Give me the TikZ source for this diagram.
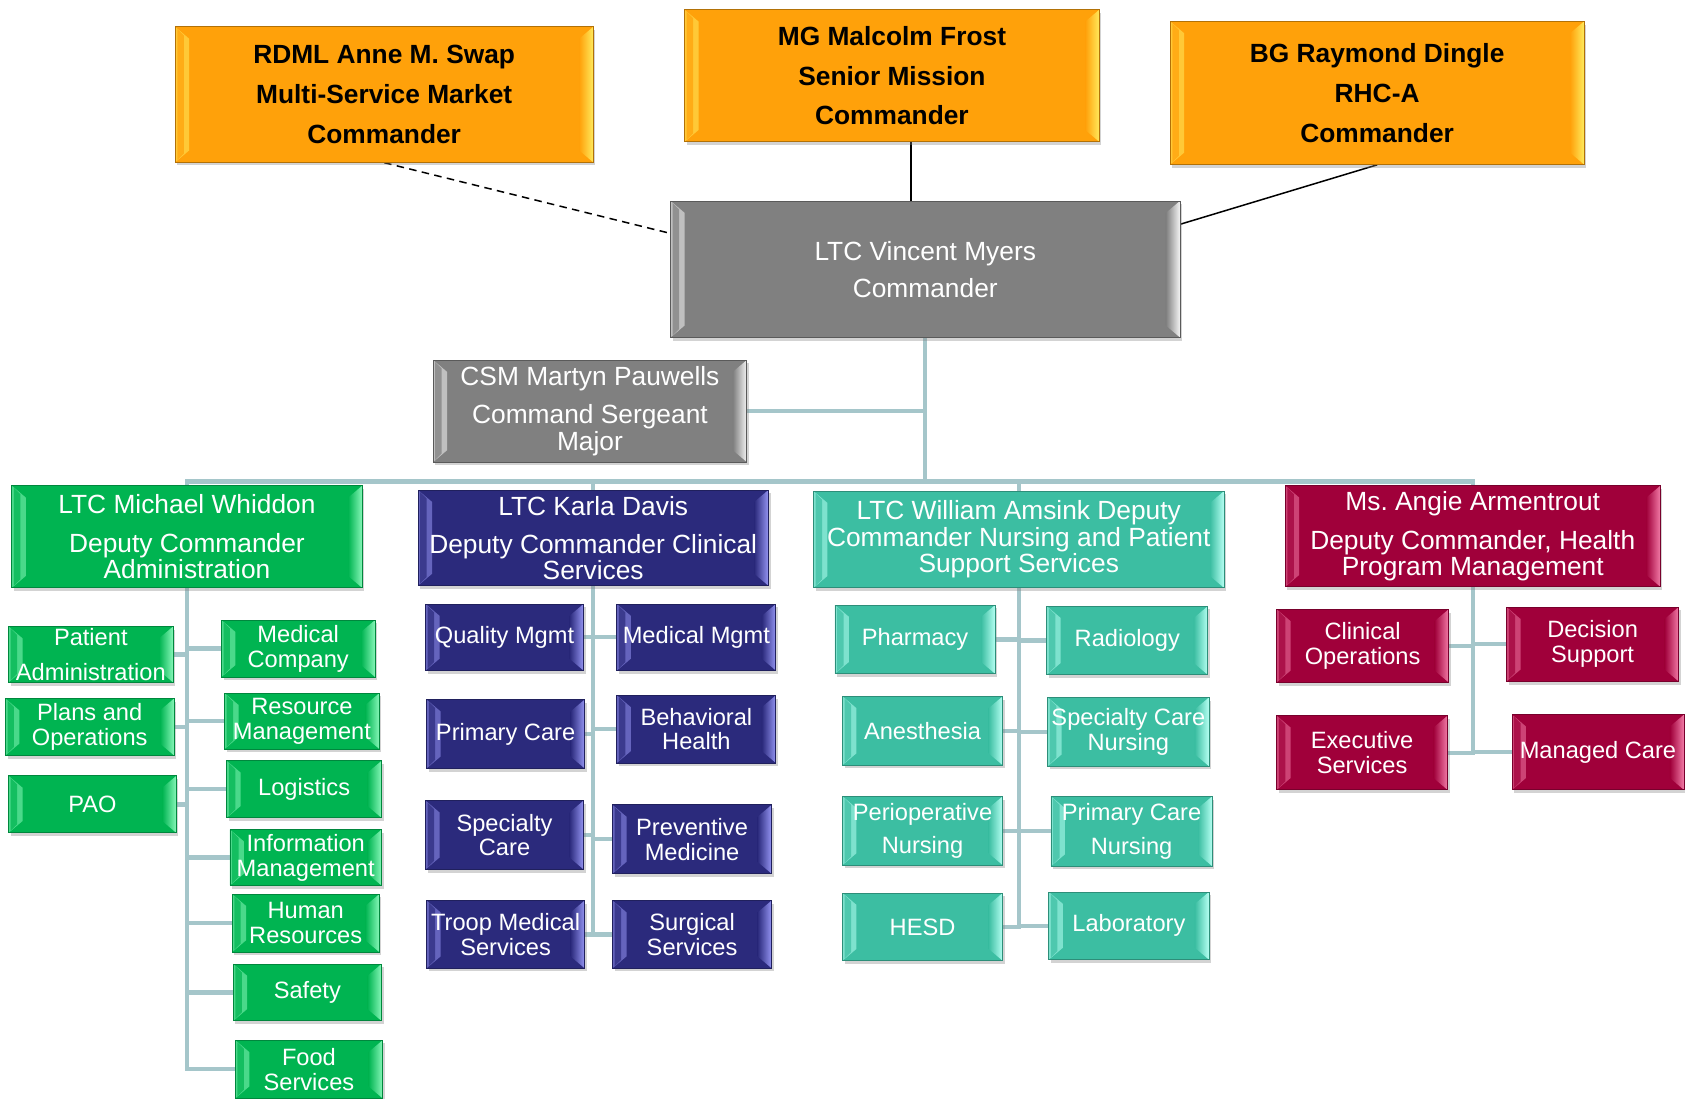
\documentclass[tikz,border=0pt]{standalone}
\usepackage{fontspec}
\setmainfont{Liberation Sans}
\usepackage{tikz}
\usetikzlibrary{shadows}
\pgfdeclarelayer{background}
\pgfsetlayers{background,main}
\definecolor{orgfill}{HTML}{FFA10A}
\definecolor{orglite}{HTML}{FFEA5C}
\definecolor{cmdfill}{HTML}{808080}
\definecolor{cmdlite}{HTML}{F4F4F4}
\definecolor{admfill}{HTML}{00B451}
\definecolor{admlite}{HTML}{86F7B8}
\definecolor{clnfill}{HTML}{2B2A7C}
\definecolor{clnlite}{HTML}{9494F2}
\definecolor{nrsfill}{HTML}{3CBEA2}
\definecolor{nrslite}{HTML}{B4FFF2}
\definecolor{hpmfill}{HTML}{A0003A}
\definecolor{hpmlite}{HTML}{F27AA6}
\definecolor{linkcol}{HTML}{A5C6CA}
\tikzset{bevel/.style 2 args={path picture={
    \fill[#2!55!#1]
      (path picture bounding box.south west) -- (path picture bounding box.north west)
      -- ([xshift=13pt,yshift=-11pt]path picture bounding box.north west)
      -- ([xshift=13pt,yshift=11pt]path picture bounding box.south west) -- cycle;
    \fill[#1!85!#2]
      ([xshift=2pt,yshift=-2pt]path picture bounding box.north west)
      -- ([xshift=8pt,yshift=-8pt]path picture bounding box.north west)
      -- ([xshift=8pt,yshift=8pt]path picture bounding box.south west)
      -- ([xshift=2pt,yshift=2pt]path picture bounding box.south west) -- cycle;
    \shade[left color=#1, right color=#2]
      (path picture bounding box.south east) -- (path picture bounding box.north east)
      -- ([xshift=-13pt,yshift=-11pt]path picture bounding box.north east)
      -- ([xshift=-13pt,yshift=11pt]path picture bounding box.south east) -- cycle;}}}
\tikzstyle{box}=[rectangle,inner sep=0pt,line width=0.8pt,align=center,text=white,drop shadow={opacity=0.35,shadow xshift=2pt,shadow yshift=-3pt}]
\tikzstyle{bigfont}=[font=\fontsize{24.5}{24.5}\selectfont]
\tikzstyle{smallfont}=[font=\fontsize{22}{23}\selectfont]
\tikzstyle{topbox}=[box,fill=orgfill,draw=orgfill!70!black,bevel={orgfill}{orglite},text=black,font=\fontsize{24.5}{24.5}\selectfont\bfseries]
\tikzstyle{cmdbox}=[box,bigfont,fill=cmdfill,draw=cmdfill!70!black,bevel={cmdfill}{cmdlite}]
\tikzstyle{admbox}=[box,fill=admfill,draw=admfill!75!black,bevel={admfill}{admlite}]
\tikzstyle{clnbox}=[box,fill=clnfill,draw=clnfill!75!black,bevel={clnfill}{clnlite}]
\tikzstyle{nrsbox}=[box,fill=nrsfill,draw=nrsfill!75!black,bevel={nrsfill}{nrslite}]
\tikzstyle{hpmbox}=[box,fill=hpmfill,draw=hpmfill!75!black,bevel={hpmfill}{hpmlite}]
\tikzstyle{link}=[draw=linkcol,line width=4pt,line cap=rect]
\tikzstyle{tie}=[draw,line width=1.4pt]

\begin{document}
\begin{tikzpicture}[x=1pt,y=-1pt]
    \useasboundingbox (0,0) rectangle (1568,1022);
    % Outside commanders on top
    \node[topbox,minimum width=389pt,minimum height=126pt] (rdml) at (357.5,88) {RDML Anne M. Swap\\[12.5pt]Multi-Service Market\\[12.5pt]Commander};
    \node[topbox,minimum width=386pt,minimum height=123pt] (mg) at (830,70.5) {MG Malcolm Frost\\[12.5pt]Senior Mission\\[12.5pt]Commander};
    \node[topbox,minimum width=385pt,minimum height=133pt] (bg) at (1281.5,86.5) {BG Raymond Dingle\\[12.5pt]RHC-A\\[12.5pt]Commander};
    % Commander and CSM
    \node[cmdbox,minimum width=474pt,minimum height=127pt] (cmd) at (861,250.5) {LTC Vincent Myers\\[10pt]Commander};
    \node[cmdbox,minimum width=292pt,minimum height=95pt] (csm) at (549,382.5) {CSM Martyn Pauwells\\[11pt]Command Sergeant\\Major};
    % The four deputies
    \node[admbox,bigfont,minimum width=326pt,minimum height=95pt] (admin) at (174,499.5) {LTC Michael Whiddon\\[12pt]Deputy Commander\\Administration};
    \node[clnbox,bigfont,minimum width=326pt,minimum height=89pt] (clin) at (552,500.5) {LTC Karla Davis\\[11pt]Deputy Commander Clinical\\Services};
    \node[nrsbox,bigfont,minimum width=382pt,minimum height=90pt] (nurse) at (948,502) {LTC William Amsink Deputy\\Commander Nursing and Patient\\Support Services};
    \node[hpmbox,bigfont,minimum width=349pt,minimum height=94pt] (hpm) at (1370.5,499) {Ms.\ Angie Armentrout\\[12pt]Deputy Commander, Health\\Program Management};
    % Sections under each deputy
    \foreach \name/\x/\y/\w/\h/\txt in {{patadm/84.5/609/153/52/{Patient\\[9pt]Administration}}, {plans/83.5/676.5/157/53/{Plans and\\Operations}}, {pao/86/748.5/156/53/PAO},
        {medco/277.5/603.5/143/53/{Medical\\Company}}, {resmgt/281/671/144/52/{Resource\\Management}}, {logis/283/734.5/144/53/Logistics}, {infomgt/284.5/798/141/52/{Information\\Management}},
        {hr/284.5/859/137/54/{Human\\Resources}}, {safety/286/923.5/138/53/Safety}, {food/287.5/995/137/54/{Food\\Services}}}
        \node[admbox,smallfont,minimum width=\w pt,minimum height=\h pt] (\name) at (\x,\y) {\txt};
    \foreach \name/\x/\y/\w/\h/\txt in {{qual/469.5/593/147/62/{Quality Mgmt}}, {prim/470.5/683/147/64/{Primary Care}}, {spec/469.5/777/147/64/{Specialty\\Care}}, {troop/470.5/869.5/147/63/{Troop Medical\\Services}},
        {medmgt/648/593/148/62/{Medical Mgmt}}, {behav/648/678.5/148/63/{Behavioral\\Health}}, {prev/644/781/148/64/{Preventive\\Medicine}}, {surg/644/869.5/148/63/{Surgical\\Services}}}
        \node[clnbox,smallfont,minimum width=\w pt,minimum height=\h pt] (\name) at (\x,\y) {\txt};
    \foreach \name/\x/\y/\w/\h/\txt in {{pharm/851.5/595/149/64/Pharmacy}, {anes/858.5/680/149/64/Anesthesia}, {periop/858.5/773/149/64/{Perioperative\\[8pt]Nursing}}, {hesd/858.5/862.5/149/63/HESD},
        {radio/1049/596/150/64/Radiology}, {specn/1050/681/150/64/{Specialty Care\\Nursing}}, {primn/1053/773.5/150/65/{Primary Care\\[9pt]Nursing}}, {lab/1050.5/861.5/149/63/Laboratory}}
        \node[nrsbox,smallfont,minimum width=\w pt,minimum height=\h pt] (\name) at (\x,\y) {\txt};
    \foreach \name/\x/\y/\w/\h/\txt in {{clinops/1268/601/160/68/{Clinical\\Operations}}, {execs/1267.5/700.5/159/69/{Executive\\Services}},
        {decis/1482/599.5/160/69/{Decision\\Support}}, {managed/1487/700/160/70/{Managed Care}}}
        \node[hpmbox,smallfont,minimum width=\w pt,minimum height=\h pt] (\name) at (\x,\y) {\txt};
    % Connect everything behind the boxes
    \begin{pgfonlayer}{background}
        \path[tie,dashed,dash pattern=on 7pt off 5pt] (rdml.south) -- (cmd.172);
        \path[tie] (mg.-74) -- (mg.-74 |- cmd.north);
        \path[tie] (bg.south) -- (cmd.10);
        \coordinate (bus) at (861,448);
        \path[link] (cmd.south) -- (bus);
        \path[link] (csm.east) -- (csm.east -| cmd.south);
        \path[link] (bus -| admin.north) -- (bus -| hpm.north);
        \foreach \dep in {admin,clin,nurse,hpm}
            \path[link] (bus -| \dep.north) -- (\dep.north);
        \path[link] (admin.south) |- (food.west);
        \foreach \kid in {patadm,plans,pao}
            \path[link] (\kid.east) -- (\kid.east -| admin.south);
        \foreach \kid in {medco,resmgt,logis,infomgt,hr,safety}
            \path[link] (\kid.west) -- (\kid.west -| admin.south);
        \path[link] (clin.south) -- (clin.south |- surg.west);
        \foreach \kid in {qual,prim,spec,troop}
            \path[link] (\kid.east) -- (\kid.east -| clin.south);
        \foreach \kid in {medmgt,behav,prev,surg}
            \path[link] (\kid.west) -- (\kid.west -| clin.south);
        \path[link] (nurse.south) -- (nurse.south |- hesd.east);
        \foreach \kid in {pharm,anes,periop,hesd}
            \path[link] (\kid.east) -- (\kid.east -| nurse.south);
        \foreach \kid in {radio,specn,primn,lab}
            \path[link] (\kid.west) -- (\kid.west -| nurse.south);
        \path[link] (hpm.south) -- (hpm.south |- managed.west);
        \foreach \kid in {clinops,execs}
            \path[link] (\kid.east) -- (\kid.east -| hpm.south);
        \foreach \kid in {decis,managed}
            \path[link] (\kid.west) -- (\kid.west -| hpm.south);
    \end{pgfonlayer}
\end{tikzpicture}
\end{document}
